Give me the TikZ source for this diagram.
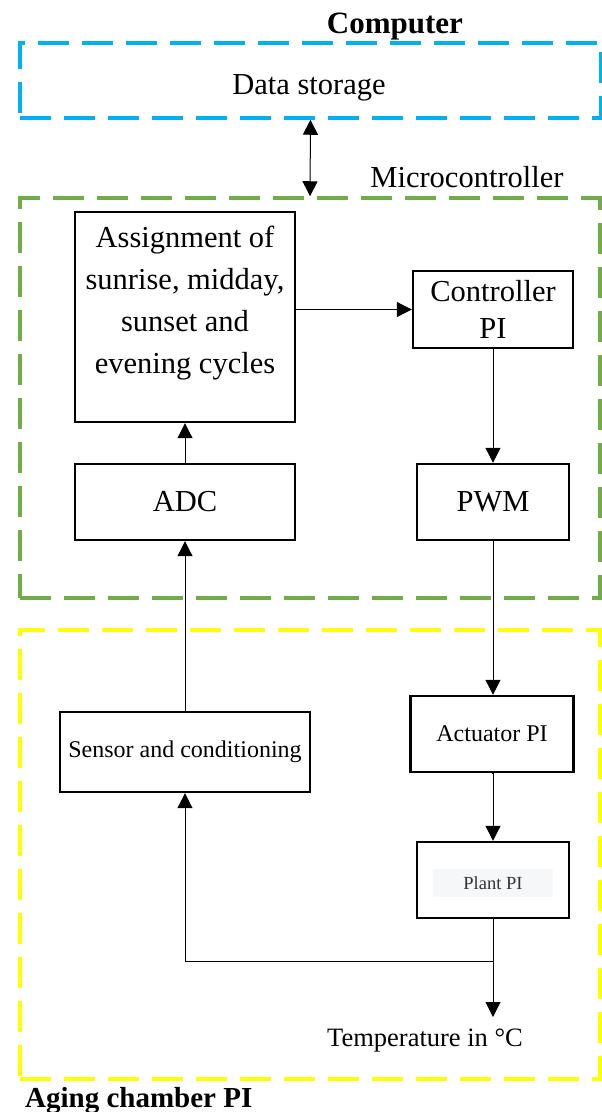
\documentclass[tikz,border=0pt]{standalone}
\usepackage{fontspec}
\setmainfont{Liberation Serif}
\usetikzlibrary{arrows.meta,calc}
\definecolor{cblue}{HTML}{00B0F0}
\definecolor{cgreen}{HTML}{70AD47}
\definecolor{cyellow}{HTML}{FFFF00}
\definecolor{pgrey}{HTML}{F6F7F9}
\definecolor{ptext}{HTML}{333333}
\tikzset{
  frame/.style={draw, line width=3.5pt, dash pattern=on 31pt off 13pt, inner sep=0pt},
  blockbox/.style={draw, line width=2.4pt, inner sep=0pt, align=center},
  conn/.style={line width=1pt, -{Triangle[length=15pt,width=15pt]}},
  bigfont/.style={font=\fontsize{30.5}{37}\selectfont},
  midfont/.style={font=\fontsize{24}{28}\selectfont},
  txt/.style={inner sep=0pt, anchor=base}
}
\begin{document}
\begin{tikzpicture}[x=1pt,y=-1pt]
\useasboundingbox (0,0) rectangle (602,1112);
% frames
\node[frame, draw=cblue, minimum width=581pt, minimum height=75pt] (computer) at (310.5,80.5) {};
\node[frame, draw=cgreen, minimum width=580pt, minimum height=400pt] (micro) at (310,398) {};
\node[frame, draw=cyellow, minimum width=580pt, minimum height=449pt] (chamber) at (310,854.5) {};
% frame labels
\node[txt, font=\fontsize{31}{36}\selectfont\bfseries] (lcomp) at (395,33) {Computer};
\node[txt, bigfont] (lmicro) at (467,187) {Microcontroller};
\node[txt, font=\fontsize{29}{34}\selectfont\bfseries, anchor=base west] (lcham) at (25,1107) {Aging chamber PI};
\node[txt, bigfont] (ldata) at (309,94) {Data storage};
% blocks
\node[blockbox, minimum width=220pt, minimum height=210pt] (assign) at (185,317) {};
\node[inner sep=0pt, align=center, font=\fontsize{30.5}{42.3}\selectfont] (assigntext) at (185,303) {Assignment of\\sunrise, midday,\\sunset and\\evening cycles};
\node[blockbox, bigfont, minimum width=160pt, minimum height=77pt] (ctrl) at (493,309.5) {Controller\\PI};
\node[blockbox, bigfont, minimum width=220pt, minimum height=76pt] (adc) at (185,502) {ADC};
\node[blockbox, bigfont, minimum width=152pt, minimum height=76pt] (pwm) at (493,502) {PWM};
\node[blockbox, midfont, minimum width=250pt, minimum height=80pt] (sensor) at (185,752) {Sensor and conditioning};
\node[blockbox, midfont, minimum width=163pt, minimum height=76pt] (act) at (492,734) {Actuator PI};
\node[blockbox, minimum width=152pt, minimum height=76pt] (plant) at (493,880) {};
\node[fill=pgrey, minimum width=120pt, minimum height=28pt, inner sep=0pt, text=ptext, font=\fontsize{18.5}{22}\selectfont] (planttext) at (493,883) {Plant PI};
% output
\coordinate (tout) at (493,1017);
\coordinate (junc) at (493,961);
\node[txt, font=\fontsize{26.5}{30}\selectfont] (temp) at (425,1046) {Temperature in °C};
% connectors
\draw[line width=1pt, {Triangle[length=15pt,width=15pt]}-{Triangle[length=15pt,width=15pt]}] (computer.south) -- (micro.north);
\draw[conn] (assign.east |- ctrl.west) -- (ctrl.west);
\draw[conn] (ctrl.south) -- (pwm.north);
\draw[conn] (adc.north) -- (assign.south);
\draw[conn] (sensor.north) -- (adc.south);
\draw[conn] (pwm.south) -- (pwm.south |- act.north);
\draw[conn] (act.south) -- (act.south -| plant.north) -- (plant.north);
\draw[conn] (plant.south) -- (tout);
\draw[conn] (junc) -| (sensor.south);
\end{tikzpicture}
\end{document}
